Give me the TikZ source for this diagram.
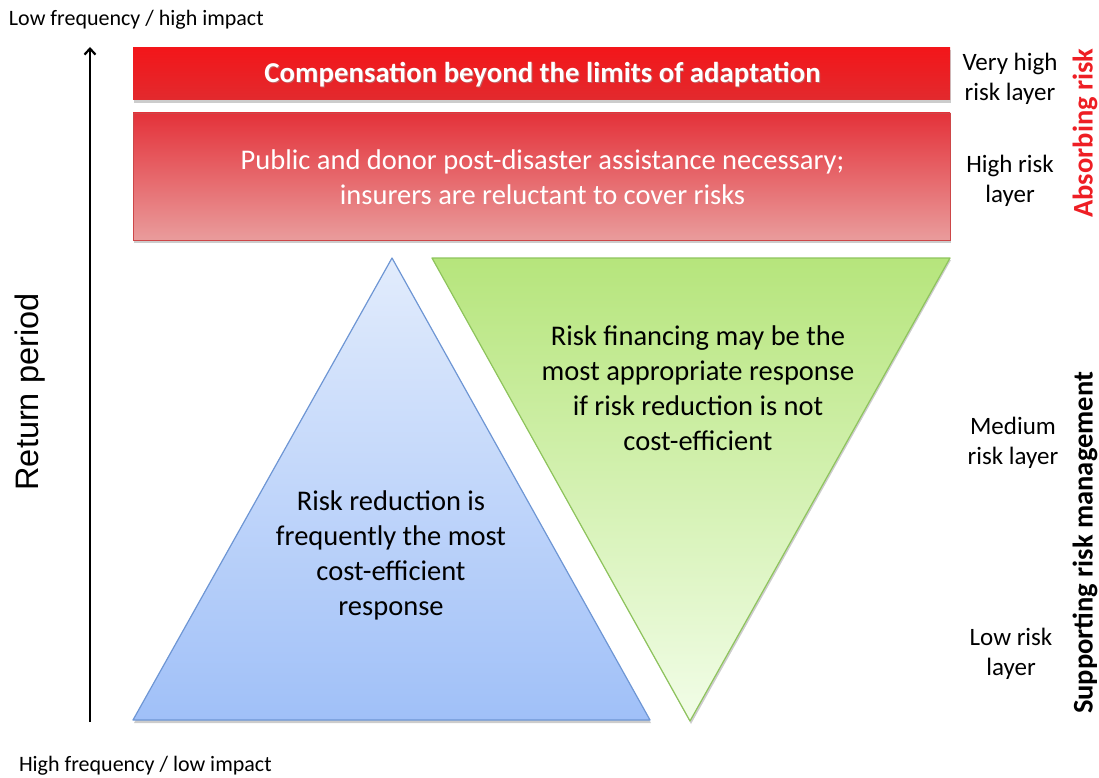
\documentclass[tikz,border=0pt]{standalone}
\usepackage{fontspec}
\setmainfont{Carlito}
\newfontfamily\arialfont{Liberation Sans}
\usetikzlibrary{arrows.meta}
\definecolor{barTop}{RGB}{243,22,26}
\definecolor{barBot}{RGB}{226,42,46}
\definecolor{boxTop}{RGB}{228,50,58}
\definecolor{boxBot}{RGB}{233,156,156}
\definecolor{boxLine}{RGB}{205,70,72}
\definecolor{bluTop}{RGB}{226,236,252}
\definecolor{bluBot}{RGB}{160,192,248}
\definecolor{bluLine}{RGB}{110,150,212}
\definecolor{grnTop}{RGB}{182,229,124}
\definecolor{grnBot}{RGB}{242,253,232}
\definecolor{grnLine}{RGB}{142,196,92}
\definecolor{absRed}{RGB}{238,30,36}
\begin{document}
\begin{tikzpicture}[x=1pt,y=-1pt,
  every node/.style={inner sep=0pt, outer sep=0pt},
  bodytext/.style={align=center, font=\fontsize{28.5}{35}\selectfont},
  sidelabel/.style={align=center, font=\fontsize{25}{30.5}\selectfont},
  axislabel/.style={font=\fontsize{22}{24}\selectfont},
  sidehead/.style={rotate=90, font=\bfseries\fontsize{28.5}{30}\selectfont},
  shadowed/.style={fill=black, opacity=0.2}
]
\useasboundingbox (0,0) rectangle (1099,778);

% --- layered boxes at the top
\fill[shadowed] (134,50) rectangle (951,103);
\shade[top color=barTop, bottom color=barBot] (133,48) rectangle (950,100);
\fill[shadowed] (134,115) rectangle (951,243);
\shade[top color=boxTop, bottom color=boxBot, draw=boxLine, line width=0.6pt] (133,113) rectangle (950,240);

\node[font=\bfseries\fontsize{28.8}{30}\selectfont, text=black!40, opacity=0.5] at (543.5,76) {Compensation beyond the limits of adaptation};
\node (comp) [font=\bfseries\fontsize{28.8}{30}\selectfont, text=white] at (542.5,74.5) {Compensation beyond the limits of adaptation};
\node (pub) [bodytext, text=white] at (542.5,177) {Public and donor post-disaster assistance necessary;\\insurers are reluctant to cover risks};

% --- triangles
\fill[shadowed] (393,260) -- (651,723) -- (134,723) -- cycle;
\fill[shadowed] (433,260) -- (951,260) -- (691,724) -- cycle;
\shade[top color=bluTop, bottom color=bluBot, draw=bluLine, line width=1.2pt, line join=round]
  (392,258) -- (650,720) -- (133,720) -- cycle;
\shade[top color=grnTop, bottom color=grnBot, draw=grnLine, line width=1.2pt, line join=round]
  (432,258) -- (950,258) -- (690,721) -- cycle;

\node (red) [bodytext] at (391,555) {Risk reduction is\\frequently the most\\cost-efficient\\response};
\node (fin) [bodytext] at (698,388) {Risk financing may be the\\most appropriate response\\if risk reduction is not\\cost-efficient};

% --- vertical axis
\coordinate (abot) at (90,722);
\coordinate (atop) at (90,47);
\draw[line width=2.2pt, -{Straight Barb[length=6pt,width=11pt]}] (abot) -- (atop);
\node (lowf) [axislabel, anchor=west] at (9,20) {Low frequency / high impact};
\node (highf) [axislabel, anchor=west] at (19,766) {High frequency / low impact};
\node (ret) [rotate=90, font=\arialfont\fontsize{32.5}{34}\selectfont] at (30,392) {Return period};

% --- layer labels
\node (vh) [sidelabel] at (1010,79) {Very high\\risk layer};
\node (hi) [sidelabel] at (1010,181) {High risk\\layer};
\node (med) [sidelabel] at (1013,443) {Medium\\risk layer};
\node (low) [sidelabel] at (1011,654) {Low risk\\layer};

\node (abs) [sidehead, text=absRed] at (1085,133) {Absorbing risk};
\node (sup) [sidehead] at (1085,543) {Supporting risk management};
\end{tikzpicture}
\end{document}
